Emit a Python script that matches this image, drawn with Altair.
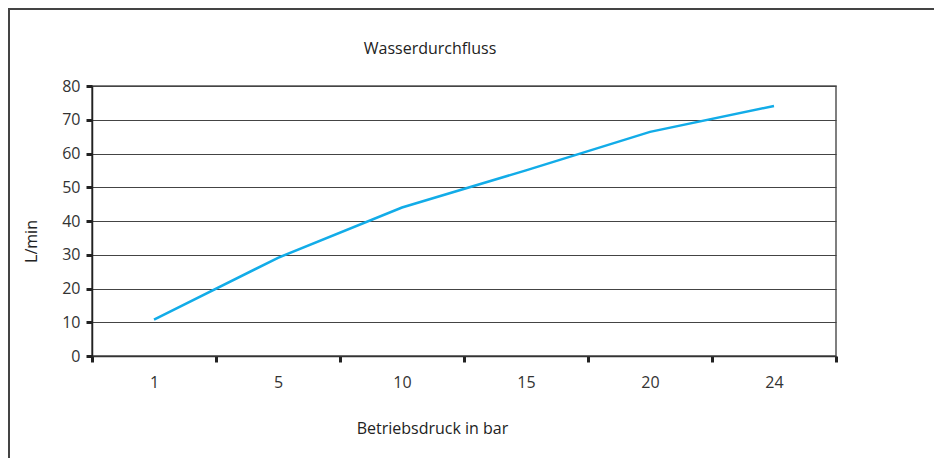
import altair as alt
import pandas as pd

pressure = ["1", "5", "10", "15", "20", "24"]
flow = [10.8, 29.1, 44.0, 55.0, 66.4, 74.1]

df = pd.DataFrame({"Betriebsdruck": pressure, "Durchfluss": flow})

FONT = "Open Sans"

line = alt.Chart(df).mark_line(color="#12ace8", strokeWidth=2.5).encode(
    x=alt.X("Betriebsdruck:N", sort=pressure,
            scale=alt.Scale(paddingInner=0, paddingOuter=0),
            axis=alt.Axis(title="Betriebsdruck in bar", labelAngle=0,
                          bandPosition=0, tickBand="extent",
                          tickSize=6, tickWidth=3, tickColor="#222",
                          domainColor="#333", domainWidth=1.5,
                          labelPadding=12, titlePadding=30,
                          titleX=340, grid=False)),
    y=alt.Y("Durchfluss:Q",
            scale=alt.Scale(domain=[0, 80]),
            axis=alt.Axis(title="L/min", values=[0, 10, 20, 30, 40, 50, 60, 70, 80],
                          tickSize=6, tickWidth=3, tickColor="#222",
                          domainColor="#222", domainWidth=1.5,
                          gridColor="#444", gridWidth=1.2, gridOpacity=1,
                          labelPadding=6, titlePadding=22, titleY=155)),
)

frame_top = alt.Chart(df).mark_rule(color="#444", strokeWidth=2, clip=False).encode(
    x=alt.value(-84), x2=alt.value(850), y=alt.value(-77))
frame_left = alt.Chart(df).mark_rule(color="#444", strokeWidth=2, clip=False).encode(
    x=alt.value(-83), y=alt.value(-77), y2=alt.value(390))

chart = alt.layer(frame_top, frame_left, line).properties(
    width=744, height=270,
    title=alt.TitleParams("Wasserdurchfluss", fontSize=16, font=FONT, fontWeight="normal",
                          color="#222", anchor="middle", frame="group", dx=-34,
                          offset=0, dy=49),
    autosize=alt.AutoSizeParams(type="none"),
    padding={"left": 84, "top": 78, "right": 98, "bottom": 102},
).configure_axis(
    labelFont=FONT, titleFont=FONT, labelFontSize=16, titleFontSize=16,
    labelColor="#333", titleColor="#222", titleFontWeight="normal",
).configure_view(stroke="#555", strokeWidth=1.5)

chart.save("out.html", embed_options={"renderer": "svg", "actions": False})
